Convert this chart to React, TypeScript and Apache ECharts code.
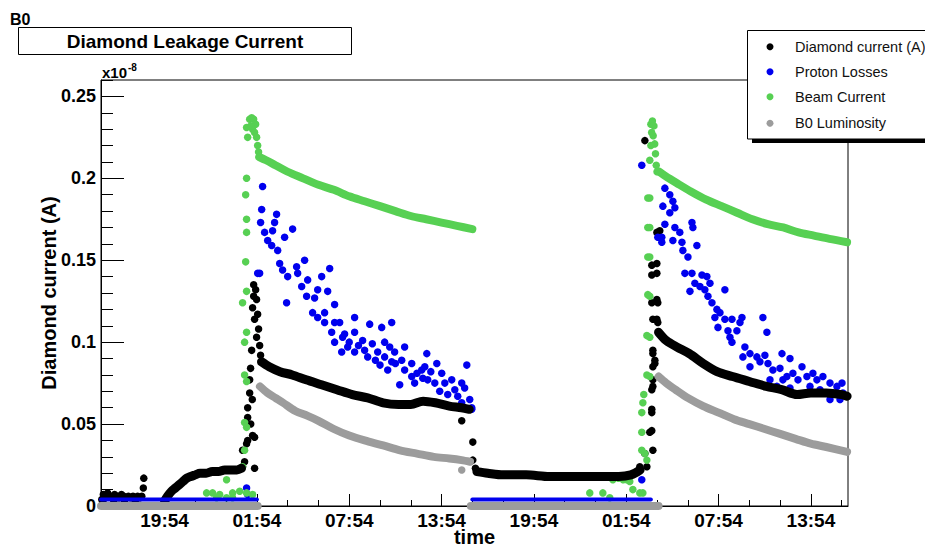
import React, { useEffect, useRef } from "react";
import * as echarts from "echarts";

const FONT = "'Liberation Sans', Arial, Helvetica, sans-serif";

// x: hours after 19:54 of the first day; y: current in units of 1e-8 A
const X_MIN = -4.13;
const X_MAX = 44.41;
const Y_MIN = 0;
const Y_MAX = 0.26;

const xMajorTicks = [0, 6, 12, 18, 24, 30, 36, 42];
const xTickLabels = ["19:54", "01:54", "07:54", "13:54", "19:54", "01:54", "07:54", "13:54"];
const xMinorTicks = [-4, -2, 0, 2, 4, 6, 8, 10, 12, 14, 16, 18, 20, 22, 24, 26, 28, 30, 32, 34, 36, 38, 40, 42, 44];
const yMajorTicks = [0, 0.05, 0.1, 0.15, 0.2, 0.25];
const yTickLabels = ["0", "0.05", "0.1", "0.15", "0.2", "0.25"];
const yMinorTicks = [0, 0.01, 0.02, 0.03, 0.04, 0.05, 0.06, 0.07, 0.08, 0.09, 0.1, 0.11, 0.12, 0.13, 0.14, 0.15, 0.16, 0.17, 0.18, 0.19, 0.2, 0.21, 0.22, 0.23, 0.24, 0.25, 0.26];

const seriesNames = ["Diamond current (A)", "Proton Losses", "Beam Current", "B0 Luminosity"];
const seriesColors = ["#000000", "#0000ee", "#57d053", "#9c9c9c"];

// ---- Diamond current (black)
const diamondRise1 = [[0.0, 0.003], [0.2, 0.006], [0.45, 0.009], [0.7, 0.011], [0.95, 0.013], [1.2, 0.015], [1.45, 0.017], [1.7, 0.018], [2.0, 0.019], [2.3, 0.02], [2.7, 0.02], [3.1, 0.021], [3.5, 0.021], [3.9, 0.022], [4.3, 0.022], [4.7, 0.022], [5.0, 0.023]];
const diamondDecay1 = [[6.3, 0.088], [6.8, 0.085], [7.5, 0.082], [8.3, 0.08], [9.2, 0.077], [10.2, 0.074], [11.2, 0.071], [12.2, 0.068], [13.2, 0.066], [14.2, 0.063], [15.2, 0.062], [16.0, 0.062], [16.8, 0.064], [17.6, 0.063], [18.5, 0.061], [19.3, 0.06], [19.8, 0.059]];
const diamondPlateau2 = [[20.3, 0.021], [21.0, 0.02], [22.0, 0.019], [23.5, 0.019], [25.0, 0.018], [26.5, 0.018], [28.0, 0.018], [29.5, 0.018], [30.3, 0.019], [30.9, 0.022]];
const diamondDecay2 = [[32.1, 0.106], [32.6, 0.101], [33.3, 0.097], [34.1, 0.093], [35.0, 0.087], [35.9, 0.082], [36.9, 0.079], [38.0, 0.076], [39.1, 0.073], [40.1, 0.071], [41.1, 0.068], [42.0, 0.069], [43.0, 0.069], [44.0, 0.068], [44.35, 0.067]];
const diamondPoints = [
  [-4.08, 0.004], [-3.98, 0.007], [-3.85, 0.005], [-3.7, 0.008], [-3.55, 0.006], [-3.4, 0.005], [-3.25, 0.007], [-3.1, 0.006], [-2.95, 0.005], [-2.8, 0.007], [-2.65, 0.006], [-2.5, 0.005], [-2.35, 0.006], [-2.2, 0.005], [-2.05, 0.006], [-1.9, 0.005], [-1.75, 0.006], [-1.6, 0.005], [-1.48, 0.006], [-1.38, 0.011], [-1.35, 0.017],
  [-4.0, 0.002], [-3.3, 0.003], [-2.6, 0.003], [-1.9, 0.003],
  [5.07, 0.024], [5.2, 0.027], [5.33, 0.038], [5.07, 0.034], [5.4, 0.04], [5.85, 0.042], [5.72, 0.043], [5.4, 0.054], [5.4, 0.06], [5.53, 0.069], [5.53, 0.077], [5.59, 0.084], [5.66, 0.095], [5.98, 0.103], [5.85, 0.114], [5.72, 0.121], [5.79, 0.128], [5.79, 0.135], [5.92, 0.132], [5.98, 0.126], [6.05, 0.117], [6.11, 0.108], [6.18, 0.098], [6.24, 0.092], [5.85, 0.023], [5.6, 0.05], [5.7, 0.065],
  [19.31, 0.052], [20.03, 0.039], [20.03, 0.028], [20.2, 0.023],
  [30.88, 0.024], [31.21, 0.032], [31.34, 0.024], [31.53, 0.045], [31.66, 0.057], [31.66, 0.071], [31.73, 0.085], [31.73, 0.093], [31.99, 0.114], [31.99, 0.126], [31.99, 0.142], [31.99, 0.148], [31.99, 0.167], [31.21, 0.223], [31.66, 0.147], [31.66, 0.141], [31.66, 0.124], [31.73, 0.114], [31.73, 0.095], [31.86, 0.087], [31.73, 0.073], [31.66, 0.059], [31.66, 0.046], [31.73, 0.034], [32.18, 0.168], [32.05, 0.124], [32.05, 0.112], [31.86, 0.089], [31.73, 0.077],
];

// ---- Proton losses (blue)
const protonBase1 = [[-4.13, 0.004], [6.0, 0.004]];
const protonBase2 = [[20.0, 0.004], [31.6, 0.004]];
const protonPoints = [
  [5.33, 0.011], [5.4, 0.007], [6.05, 0.142],
  [6.37, 0.195], [6.31, 0.181], [6.24, 0.173], [7.28, 0.178], [7.15, 0.173], [7.02, 0.168], [8.32, 0.169], [7.8, 0.164], [6.5, 0.167], [6.7, 0.162], [6.96, 0.159], [7.35, 0.156], [7.48, 0.148], [7.67, 0.144], [8.58, 0.146], [9.1, 0.15], [10.73, 0.145], [6.18, 0.142], [8.0, 0.14], [8.65, 0.142], [9.3, 0.138], [10.21, 0.14], [8.91, 0.134], [9.23, 0.128], [9.75, 0.127], [9.95, 0.132], [10.6, 0.131], [7.93, 0.124], [11.05, 0.123], [9.62, 0.118], [9.95, 0.115], [10.4, 0.118], [10.4, 0.112], [11.05, 0.112], [11.38, 0.112], [10.86, 0.106], [12.35, 0.115], [13.33, 0.111], [14.11, 0.109], [14.76, 0.112], [11.05, 0.1], [11.57, 0.103], [11.9, 0.097], [12.35, 0.106], [11.51, 0.094], [12.35, 0.094], [12.87, 0.101], [13.0, 0.095], [13.2, 0.091], [13.85, 0.094], [14.3, 0.1], [14.63, 0.097], [14.95, 0.094], [15.6, 0.097], [14.3, 0.091], [14.76, 0.088], [15.41, 0.089], [14.5, 0.083], [15.6, 0.083], [16.06, 0.087], [17.04, 0.093], [16.06, 0.079], [16.71, 0.083], [16.25, 0.075], [17.1, 0.077], [17.69, 0.087], [15.28, 0.074], [18.01, 0.081], [18.21, 0.075], [18.66, 0.077], [18.86, 0.071], [17.56, 0.075], [17.88, 0.07], [19.05, 0.067], [19.64, 0.086], [19.31, 0.063], [19.83, 0.065], [19.96, 0.06], [16.78, 0.078], [16.91, 0.085], [19.31, 0.075], [19.96, 0.059],
  [11.7, 0.105], [12.0, 0.1], [12.6, 0.098], [13.5, 0.099], [13.7, 0.089], [14.0, 0.086], [15.0, 0.087], [16.4, 0.081], [17.3, 0.082], [18.4, 0.068], [19.5, 0.072],
  [31.01, 0.016], [31.01, 0.208], [32.05, 0.164],
  [32.51, 0.194], [32.83, 0.19], [33.03, 0.186], [32.38, 0.183], [33.16, 0.182], [32.83, 0.179], [32.51, 0.172], [32.31, 0.164], [32.31, 0.161], [33.16, 0.17], [33.48, 0.167], [33.03, 0.162], [33.62, 0.161], [34.27, 0.173], [34.33, 0.17], [34.59, 0.159], [33.68, 0.156], [34.01, 0.152], [33.81, 0.142], [34.27, 0.142], [34.92, 0.141], [35.24, 0.14], [34.46, 0.136], [34.79, 0.134], [35.11, 0.132], [35.44, 0.136], [36.41, 0.132], [34.14, 0.131], [35.31, 0.128], [35.57, 0.124], [35.89, 0.12], [36.09, 0.118], [35.76, 0.115], [36.41, 0.114], [36.87, 0.114], [37.52, 0.115], [37.39, 0.112], [35.96, 0.109], [36.61, 0.107], [37.19, 0.107], [36.74, 0.103], [36.87, 0.1], [38.88, 0.115], [39.14, 0.106], [37.71, 0.097], [38.04, 0.093], [37.58, 0.091], [38.49, 0.091], [38.69, 0.088], [39.01, 0.092], [39.21, 0.087], [40.12, 0.093], [40.64, 0.09], [38.04, 0.085], [39.53, 0.083], [39.99, 0.084], [40.44, 0.079], [40.83, 0.081], [41.42, 0.085], [41.16, 0.077], [41.74, 0.079], [42.13, 0.081], [42.39, 0.077], [42.78, 0.079], [43.24, 0.075], [41.94, 0.073], [42.59, 0.071], [43.69, 0.073], [44.02, 0.075], [43.37, 0.069], [44.08, 0.069], [44.34, 0.067], [43.24, 0.065], [43.89, 0.065], [39.79, 0.073], [40.64, 0.072], [39.34, 0.077], [40.18, 0.077],
];

// ---- Beam current (green)
const beamDecay1 = [[6.15, 0.213], [6.6, 0.211], [7.2, 0.208], [8.0, 0.204], [9.0, 0.2], [10.0, 0.196], [11.0, 0.193], [12.0, 0.189], [13.0, 0.186], [14.0, 0.183], [15.0, 0.18], [16.0, 0.177], [17.0, 0.175], [18.0, 0.173], [19.0, 0.171], [20.0, 0.169]];
const beamDecay2 = [[32.15, 0.204], [32.6, 0.201], [33.3, 0.197], [34.2, 0.192], [35.2, 0.187], [36.2, 0.183], [37.2, 0.179], [38.2, 0.175], [39.2, 0.172], [40.2, 0.17], [41.2, 0.167], [42.2, 0.165], [43.2, 0.163], [44.35, 0.161]];
const beamPoints = [
  [2.73, 0.008], [3.12, 0.008], [3.58, 0.007], [4.03, 0.005], [4.03, 0.016], [4.42, 0.008], [4.88, 0.009], [5.33, 0.008], [5.72, 0.007], [4.42, 0.005], [3.38, 0.005],
  [5.07, 0.024], [5.2, 0.034], [5.33, 0.048], [5.2, 0.051], [5.33, 0.076], [5.2, 0.08], [5.2, 0.1], [5.33, 0.106], [5.07, 0.124], [5.33, 0.131], [5.27, 0.149], [5.33, 0.167], [5.33, 0.175], [5.27, 0.19], [5.33, 0.2], [5.4, 0.225], [5.33, 0.231],
  [5.53, 0.236], [5.66, 0.237], [5.79, 0.236], [5.92, 0.233], [5.72, 0.23], [5.85, 0.228], [5.98, 0.225], [6.05, 0.22], [6.11, 0.216], [5.6, 0.232],
  [27.63, 0.008], [28.48, 0.008], [28.93, 0.005], [29.13, 0.016], [29.5, 0.017], [29.8, 0.016], [30.04, 0.016], [30.23, 0.015], [30.43, 0.01], [30.88, 0.008], [31.08, 0.008],
  [31.34, 0.028], [31.01, 0.034], [31.01, 0.045], [31.01, 0.057], [31.08, 0.063], [31.14, 0.068], [31.34, 0.08], [31.34, 0.104], [31.4, 0.129], [31.4, 0.152], [31.4, 0.17], [31.4, 0.188], [31.53, 0.211], [31.53, 0.188], [31.53, 0.17], [31.53, 0.152], [31.53, 0.128], [31.53, 0.103], [31.53, 0.079], [31.21, 0.032],
  [31.6, 0.233], [31.7, 0.235], [31.8, 0.232], [31.75, 0.226], [31.85, 0.221], [31.9, 0.215], [31.95, 0.208], [32.0, 0.204], [31.65, 0.228], [31.6, 0.22],
];

// ---- B0 luminosity (grey)
const lumiBase1 = [[-4.13, 0], [6.05, 0]];
const lumiBase2 = [[19.9, 0], [32.1, 0]];
const lumiDecay1 = [[6.2, 0.073], [6.7, 0.069], [7.2, 0.066], [7.7, 0.063], [8.5, 0.058], [9.3, 0.055], [10.0, 0.052], [11.0, 0.047], [12.0, 0.043], [13.0, 0.04], [14.2, 0.037], [15.3, 0.034], [16.4, 0.032], [17.5, 0.03], [18.5, 0.029], [19.3, 0.028], [19.85, 0.027]];
const lumiDecay2 = [[32.1, 0.079], [32.6, 0.075], [33.2, 0.071], [34.0, 0.066], [35.0, 0.061], [36.0, 0.057], [37.0, 0.053], [38.0, 0.05], [39.0, 0.047], [40.0, 0.044], [41.0, 0.041], [42.0, 0.038], [43.0, 0.036], [44.35, 0.033]];
const lumiPoints = [[19.31, 0.022]];

function band(name: string, color: string, width: number, data: number[][]) {
  return {
    type: "line",
    name,
    data,
    symbol: "none",
    showSymbol: false,
    smooth: 0.3,
    clip: false,
    silent: true,
    lineStyle: { color, width, cap: "round", join: "round" },
    itemStyle: { color },
  };
}

function dots(name: string, color: string, data: number[][]) {
  return {
    type: "scatter",
    name,
    data,
    symbol: "circle",
    symbolSize: 7.5,
    clip: false,
    silent: true,
    itemStyle: { color, opacity: 1 },
  };
}

export default function App() {
  const ref = useRef<HTMLDivElement>(null);

  useEffect(() => {
    if (!ref.current) return;
    const chart = echarts.init(ref.current, undefined, { renderer: "svg" });
    const [cD, cP, cB, cL] = seriesColors;
    const [nD, nP, nB, nL] = seriesNames;

    const legendRows = [46.7, 71.7, 96.7, 123.3];
    const legendGraphics: any[] = [
      { type: "rect", z: 100, shape: { x: 752, y: 139, width: 200, height: 4 }, style: { fill: "#000" } },
      { type: "rect", z: 100, shape: { x: 747.5, y: 30.5, width: 200, height: 108.5 }, style: { fill: "#fff", stroke: "#000", lineWidth: 1 } },
    ];
    seriesNames.forEach((n, i) => {
      legendGraphics.push({ type: "circle", z: 101, shape: { cx: 770, cy: legendRows[i], r: 3.5 }, style: { fill: seriesColors[i] } });
      legendGraphics.push({
        type: "text", z: 101, x: 795, y: legendRows[i],
        style: { text: n, fill: "#111", font: `14.5px ${FONT}`, verticalAlign: "middle", align: "left" },
      });
    });

    const option: any = {
      animation: false,
      backgroundColor: "#fff",
      grid: {
        left: 101, right: 77, top: 80, bottom: 42, containLabel: false, outerBoundsMode: "none",
        show: true, borderColor: "#000", borderWidth: 1, backgroundColor: "transparent",
      },
      xAxis: [
        {
          type: "value", min: X_MIN, max: X_MAX, position: "bottom",
          axisLine: { show: true, onZero: false, lineStyle: { color: "#000", width: 1 } },
          axisTick: { show: true, inside: true, length: 12, customValues: xMajorTicks, lineStyle: { color: "#000" } },
          axisLabel: {
            customValues: xMajorTicks, margin: 5, color: "#000", fontSize: 19, fontWeight: "bold", fontFamily: FONT,
            formatter: (v: number) => {
              let best = 0;
              xMajorTicks.forEach((t, i) => { if (Math.abs(t - v) < Math.abs(xMajorTicks[best] - v)) best = i; });
              return xTickLabels[best];
            },
          },
          splitLine: { show: false },
          name: "time", nameLocation: "middle", nameGap: 21, nameMoveOverlap: false,
          nameTextStyle: { color: "#000", fontSize: 20, fontWeight: "bold", fontFamily: FONT },
        },
        {
          type: "value", min: X_MIN, max: X_MAX, position: "bottom",
          axisLine: { show: false, onZero: false },
          axisTick: { show: true, inside: true, length: 6, customValues: xMinorTicks, lineStyle: { color: "#000" } },
          axisLabel: { show: false },
          splitLine: { show: false },
        },
      ],
      yAxis: [
        {
          type: "value", min: Y_MIN, max: Y_MAX, position: "left",
          axisLine: { show: true, onZero: false, lineStyle: { color: "#000", width: 1 } },
          axisTick: { show: true, inside: true, length: 23, customValues: yMajorTicks, lineStyle: { color: "#000" } },
          axisLabel: {
            customValues: yMajorTicks, margin: 5, color: "#000", fontSize: 18, fontWeight: "bold", fontFamily: FONT,
            formatter: (v: number) => {
              let best = 0;
              yMajorTicks.forEach((t, i) => { if (Math.abs(t - v) < Math.abs(yMajorTicks[best] - v)) best = i; });
              return yTickLabels[best];
            },
          },
          splitLine: { show: false },
          name: "Diamond current (A)", nameLocation: "middle", nameGap: 42, nameRotate: 90, nameMoveOverlap: false,
          nameTextStyle: { color: "#000", fontSize: 20, fontWeight: "bold", fontFamily: FONT },
        },
        {
          type: "value", min: Y_MIN, max: Y_MAX, position: "left",
          axisLine: { show: false, onZero: false },
          axisTick: { show: true, inside: true, length: 12, customValues: yMinorTicks, lineStyle: { color: "#000" } },
          axisLabel: { show: false },
          splitLine: { show: false },
        },
      ],
      series: [
        band(nD, cD, 9, diamondRise1),
        band(nD, cD, 9, diamondDecay1),
        band(nD, cD, 9, diamondPlateau2),
        band(nD, cD, 9, diamondDecay2),
        dots(nD, cD, diamondPoints),
        band(nP, cP, 4, protonBase1),
        band(nP, cP, 4, protonBase2),
        dots(nP, cP, protonPoints),
        band(nB, cB, 8, beamDecay1),
        band(nB, cB, 8, beamDecay2),
        dots(nB, cB, beamPoints),
        band(nL, cL, 8, lumiBase1),
        band(nL, cL, 8, lumiBase2),
        band(nL, cL, 8, lumiDecay1),
        band(nL, cL, 8, lumiDecay2),
        dots(nL, cL, lumiPoints),
      ],
      graphic: [
        { type: "text", z: 100, x: 10, y: 19, style: { text: "B0", fill: "#000", font: `bold 16px ${FONT}`, verticalAlign: "middle" } },
        { type: "rect", z: 100, shape: { x: 18.5, y: 27.5, width: 333, height: 27 }, style: { fill: "#fff", stroke: "#000", lineWidth: 1 } },
        { type: "text", z: 101, x: 185, y: 41.5, style: { text: "Diamond Leakage Current", fill: "#000", font: `bold 19px ${FONT}`, align: "center", verticalAlign: "middle" } },
        { type: "text", z: 100, x: 102, y: 72, style: { text: "x10", fill: "#000", font: `bold 15px ${FONT}`, verticalAlign: "middle" } },
        { type: "text", z: 100, x: 128, y: 67, style: { text: "-8", fill: "#000", font: `bold 10px ${FONT}`, verticalAlign: "middle" } },
        ...legendGraphics,
      ],
    };
    chart.setOption(option);
    return () => chart.dispose();
  }, []);

  return <div ref={ref} style={{ position: "fixed", left: 0, top: 0, width: 925, height: 548, background: "#fff" }} />;
}
